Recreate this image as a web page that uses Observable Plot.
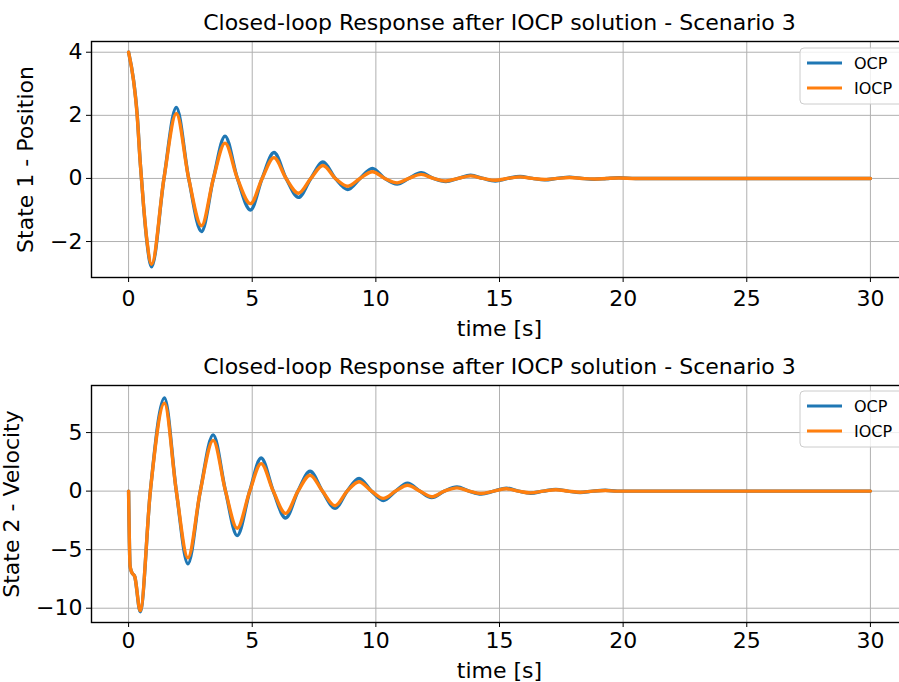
<!DOCTYPE html>
<html><head><meta charset="utf-8">
<script src="https://cdn.jsdelivr.net/npm/d3@7"></script>
<script src="https://cdn.jsdelivr.net/npm/@observablehq/plot@0.6"></script>
<style>
html,body{margin:0;padding:0;background:#fff;overflow:hidden;}
#wrap{width:899px;height:682px;overflow:hidden;position:relative;background:#fff;}
#wrap svg{display:block;max-width:none;}
</style></head><body><div id="wrap"></div>
<script>
const seriesNames = ["OCP", "IOCP"];
const seriesColors = ["#1f77b4", "#ff7f0e"];
const titleText = "Closed-loop Response after IOCP solution - Scenario 3";
const xLabel = "time [s]";
const yLabels = ["State 1 - Position", "State 2 - Velocity"];
const xTicks = [0, 5, 10, 15, 20, 25, 30];
const posTicks = [-2, 0, 2, 4];
const velTicks = [-10, -5, 0, 5];

// State 1 - Position
const tPos = [0, 0.2, 0.34, 0.47, 0.61, 0.74, 0.93, 1.43, 1.93, 2.43, 2.95, 3.43, 3.9, 4.4, 4.93, 5.4, 5.88, 6.37, 6.87, 7.37, 7.86, 8.36, 8.86, 9.36, 9.86, 10.36, 10.86, 11.33, 11.83, 12.33, 12.83, 13.33, 13.83, 14.33, 14.83, 15.33, 15.83, 16.33, 16.83, 17.33, 17.83, 18.33, 18.83, 19.33, 19.83, 20.5, 22, 24, 26, 28, 30];
const posOCP = [4.0, 3.12, 2.1, 0.52, -0.92, -2.0, -2.8, 0, 2.25, 0, -1.68, 0, 1.34, 0, -1.0, 0, 0.82, 0, -0.6, 0, 0.52, 0, -0.35, 0, 0.32, 0, -0.18, 0, 0.18, 0, -0.1, 0, 0.1, 0, -0.08, 0, 0.06, 0, -0.045, 0, 0.04, 0, -0.025, 0, 0.02, 0, 0, 0, 0, 0, 0];
const posIOCP = [4.0, 3.1, 2.06, 0.5, -0.9, -1.95, -2.72, 0, 2.06, 0, -1.5, 0, 1.12, 0, -0.8, 0, 0.66, 0, -0.47, 0, 0.41, 0, -0.25, 0, 0.21, 0, -0.14, 0, 0.13, 0, -0.08, 0, 0.08, 0, -0.06, 0, 0.05, 0, -0.035, 0, 0.03, 0, -0.02, 0, 0.015, 0, 0, 0, 0, 0, 0];

// State 2 - Velocity
const tVel = [0, 0.06, 0.12, 0.25, 0.47, 0.88, 1.45, 1.93, 2.4, 2.9, 3.42, 3.92, 4.39, 4.9, 5.36, 5.85, 6.35, 6.85, 7.34, 7.84, 8.35, 8.84, 9.32, 9.82, 10.3, 10.8, 11.28, 11.78, 12.26, 12.77, 13.28, 13.77, 14.26, 14.77, 15.28, 15.77, 16.26, 16.77, 17.28, 17.77, 18.26, 18.77, 19.28, 19.77, 20.5, 22, 24, 26, 28, 30];
const velOCP = [0, -6.4, -6.9, -7.3, -10.3, 0, 7.95, 0, -6.2, 0, 4.8, 0, -3.8, 0, 2.83, 0, -2.3, 0, 1.7, 0, -1.47, 0, 1.08, 0, -0.8, 0, 0.68, 0, -0.55, 0, 0.35, 0, -0.25, 0, 0.25, 0, -0.18, 0, 0.15, 0, -0.12, 0, 0.07, 0, 0, 0, 0, 0, 0, 0];
const velIOCP = [0, -6.4, -6.9, -7.3, -10.2, 0, 7.5, 0, -5.7, 0, 4.33, 0, -3.17, 0, 2.35, 0, -1.9, 0, 1.36, 0, -1.25, 0, 0.8, 0, -0.62, 0, 0.5, 0, -0.48, 0, 0.28, 0, -0.2, 0, 0.2, 0, -0.15, 0, 0.12, 0, -0.1, 0, 0.05, 0, 0, 0, 0, 0, 0, 0];

function rowsOf(t, v) { return t.map((ti, i) => ({t: ti, v: v[i]})); }

function panel({series, yDomain, yTicks, yLabel, height, marginTop, marginBottom, ylabelDx, legendY, xTickPad, xLabelDy}) {
  const fs = 22;
  const p = Plot.plot({
    width: 899, height, marginLeft: 91, marginRight: -8, marginTop, marginBottom,
    style: {fontFamily: "DejaVu Sans", fontSize: "22px", color: "#000", background: "#fff", overflow: "hidden"},
    x: {domain: [-1.5, 31.5], label: null},
    y: {domain: yDomain, label: null},
    marks: [
      Plot.gridX({ticks: xTicks, stroke: "#b0b0b0", strokeOpacity: 1, strokeWidth: 1}),
      Plot.gridY({ticks: yTicks, stroke: "#b0b0b0", strokeOpacity: 1, strokeWidth: 1}),
      ...series.map((s, i) => Plot.line(rowsOf(s.t, s.v), {x: "t", y: "v", stroke: seriesColors[i], strokeWidth: 3.4, curve: "monotone-x"})),
      Plot.frame({stroke: "#000", strokeWidth: 1.4}),
      Plot.axisX({ticks: xTicks, tickSize: 5, tickPadding: xTickPad, fontSize: fs, label: null, stroke: "#000", fill: "#000"}),
      Plot.axisY({ticks: yTicks, tickSize: 5, tickPadding: 4, fontSize: fs, label: null, stroke: "#000", fill: "#000"}),
      Plot.text([titleText], {frameAnchor: "top", dy: -12, lineAnchor: "bottom", textAnchor: "middle", fontSize: fs, fill: "#000"}),
      Plot.text([xLabel], {frameAnchor: "bottom", dy: xLabelDy, lineAnchor: "bottom", textAnchor: "middle", fontSize: fs, fill: "#000"}),
      Plot.text([yLabel], {frameAnchor: "left", dx: ylabelDx, rotate: -90, lineAnchor: "bottom", textAnchor: "middle", fontSize: fs, fill: "#000"})
    ]
  });
  // legend
  const svg = d3.select(p);
  const g = svg.append("g").attr("font-family", "DejaVu Sans").attr("font-size", 16).attr("text-anchor", "start");
  g.append("rect").attr("x", 800).attr("y", legendY - 15).attr("width", 110).attr("height", 56).attr("rx", 4)
    .attr("fill", "#fff").attr("fill-opacity", 0.8).attr("stroke", "#cccccc").attr("stroke-width", 1);
  seriesNames.forEach((name, i) => {
    const y = legendY + i * 25;
    g.append("line").attr("x1", 807).attr("x2", 842).attr("y1", y).attr("y2", y)
      .attr("stroke", seriesColors[i]).attr("stroke-width", 3.2);
    g.append("text").attr("x", 854).attr("y", y + 5.5).attr("fill", "#000").attr("text-anchor", "start").text(name);
  });
  return p;
}

const wrap = document.getElementById("wrap");
wrap.appendChild(panel({
  series: [{t: tPos, v: posOCP}, {t: tPos, v: posIOCP}],
  yDomain: [-3.14, 4.34], yTicks: posTicks, yLabel: yLabels[0],
  height: 340, marginTop: 41, marginBottom: 63, ylabelDx: -59, legendY: 63, xTickPad: 8, xLabelDy: 58
}));
wrap.appendChild(panel({
  series: [{t: tVel, v: velOCP}, {t: tVel, v: velIOCP}],
  yDomain: [-11.22, 9.02], yTicks: velTicks, yLabel: yLabels[1],
  height: 342, marginTop: 45, marginBottom: 60, ylabelDx: -73, legendY: 66, xTickPad: 5, xLabelDy: 55
}));
</script></body></html>
